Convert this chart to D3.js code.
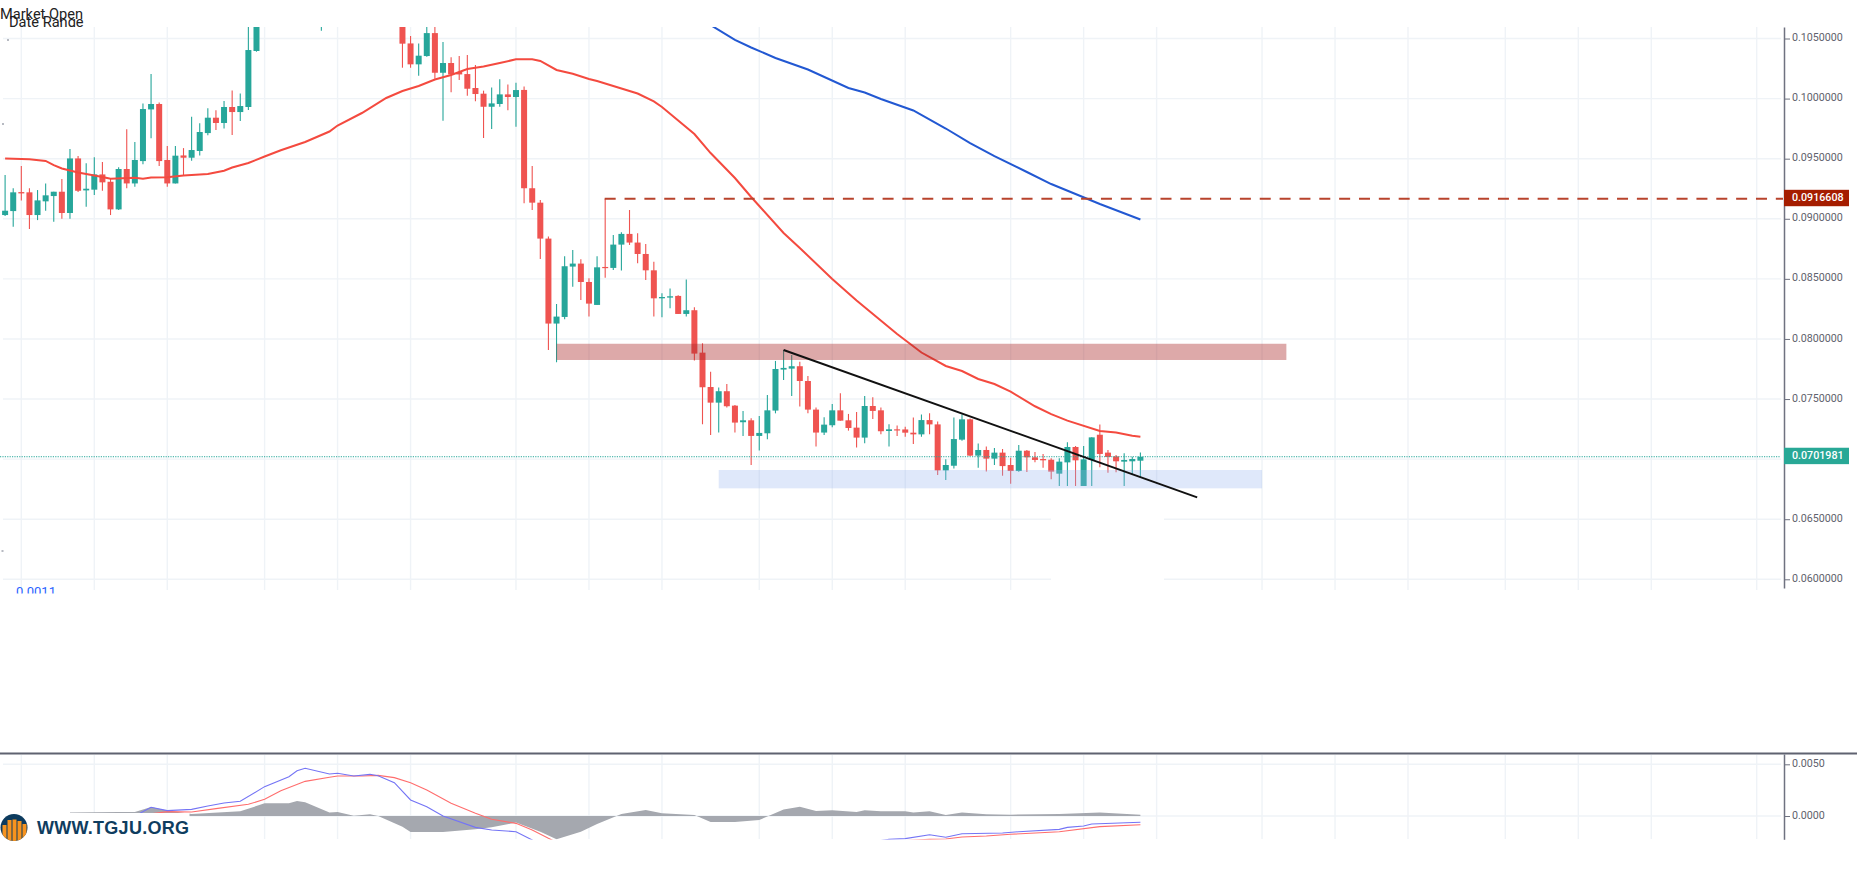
<!DOCTYPE html>
<html>
<head>
<meta charset="utf-8">
<title>Candlestick chart with MACD</title>
<script src="https://cdn.jsdelivr.net/npm/d3@7/dist/d3.min.js"></script>
<style>
  html, body { margin: 0; padding: 0; background: #fff; }
  svg { display: block; }
  text { font-family: Roboto, "Liberation Sans", sans-serif; }
</style>
</head>
<body>
<svg id="chart" width="1874" height="892"></svg>
<script>
// Daily candles, quoted in units of 0.00001
const opens = [9031,9064,9222,9220,9031,9145,9189,9225,9048,9502,
  9236,9242,9369,9308,9078,9414,9294,9480,9910,9955,
  9489,9294,9527,9508,9564,9713,9841,9797,9930,9888,
  9930,10396,10900,11000,11120,11060,11200,11320,11200,10800,
  11280,11020,10950,11100,11000,10850,11000,10880,10720,10700,
  10459,10285,10354,10545,10215,10296,10221,10204,10088,10041,
  9932,9955,10035,10013,10072,9254,9134,8835,8128,8183,
  8602,8627,8474,8283,8599,8591,8785,8874,8802,8707,
  8571,8338,8344,8358,8208,8239,7886,7600,7470,7565,
  7445,7307,7323,7193,7215,7404,7745,7753,7773,7650,
  7412,7221,7282,7406,7323,7262,7179,7442,7406,7234,
  7248,7247,7220,7206,7325,7289,6906,6945,7162,7331,
  7029,7076,7004,7054,6951,6901,7070,7015,7001,6995,
  6879,6973,7101,6750,6993,7203,7054,7023,6979,6982,6987];
const highs = [9364,9253,9439,9253,9239,9294,9225,9331,9580,9522,
  9461,9511,9472,9336,9428,9744,9638,9960,10204,9968,
  9605,9605,9588,9849,9794,9919,9902,9980,10068,10043,
  10680,10980,11050,11180,11260,11240,11380,11420,11330,11350,
  11300,11150,11180,11210,11120,11050,11090,10970,10860,10780,
  10520,10459,10680,10640,10471,10343,10354,10362,10279,10066,
  10093,10160,10118,10132,10100,9440,9157,8852,8291,8688,
  8741,8663,8505,8688,9166,8865,8888,9073,8879,8790,
  8643,8380,8419,8363,8494,8264,7964,7728,7595,7626,
  7451,7401,7340,7359,7534,7817,7908,7867,7811,7692,
  7429,7348,7459,7548,7376,7393,7526,7515,7429,7290,
  7279,7270,7347,7372,7381,7314,6998,7347,7372,7339,
  7131,7104,7093,7084,7012,7118,7076,7059,7043,7007,
  7007,7140,7109,7109,7181,7289,7076,7034,7048,7020,7056];
const lows = [9023,8934,9153,8914,8989,9067,8975,9000,9000,9222,
  9100,9197,9233,9031,9073,9253,9267,9453,9669,9439,
  9267,9294,9364,9483,9527,9694,9738,9752,9697,9813,
  9905,10390,10800,10900,11050,10990,11120,11160,11040,10565,
  10680,10840,10860,10930,10780,10710,10800,10640,10610,10257,
  10257,10190,10348,10165,9816,10052,10154,10024,9977,9672,
  9747,9932,9902,9766,9129,9073,8666,7908,7806,8164,
  8435,8325,8186,8283,8510,8574,8569,8782,8630,8491,
  8186,8180,8255,8208,8186,7820,7290,7201,7221,7429,
  7221,7193,6952,7071,7165,7381,7659,7526,7437,7381,
  7104,7201,7265,7320,7237,7096,7132,7334,7207,7104,
  7193,7186,7125,7186,7206,6868,6826,6923,7153,7026,
  6929,6896,6951,6862,6796,6895,6893,6973,6929,6832,
  6720,6700,6690,6700,6690,6932,6887,6890,6740,6868,6848];
const closes = [9067,9220,9211,9031,9153,9195,9225,9048,9502,9233,
  9250,9369,9303,9078,9414,9294,9489,9913,9955,9480,
  9294,9525,9508,9572,9722,9841,9797,9930,9888,9938,
  10404,10900,11000,11120,11060,11200,11320,11200,11280,11280,
  11020,10950,11100,11000,10850,11000,10880,10720,10780,10457,
  10285,10357,10545,10215,10296,10201,10201,10082,10038,9932,
  9960,10035,10013,10071,9254,9134,8835,8128,8186,8605,
  8627,8474,8294,8596,8591,8785,8874,8802,8707,8571,
  8338,8349,8355,8208,8239,7878,7598,7470,7565,7440,
  7304,7323,7193,7218,7406,7750,7759,7773,7650,7412,
  7221,7287,7406,7320,7259,7179,7442,7401,7232,7248,
  7243,7220,7206,7325,7289,6906,6951,7167,7331,7029,
  7076,7004,7054,6942,6901,7070,7015,6993,6990,6896,
  6979,7101,6990,6998,7181,7043,7018,6982,6993,7001,7019.81];

// Moving averages, as bar number / value pairs in the same units
const fastMaBars = [0,3,5,6,7,9,10,12,13,16,17,18,20,22,25,27,28,30,32,34,37,40,41,44,47,49,51,53,55,57,59,61,63,65,66,68,70,72,73,78,80,81,85,87,90,92,93,96,98,102,105,110,113,116,118,120,122,124,127,129,131,135,137,139,140];
const fastMaValues = [9501,9495,9481,9447,9418,9385,9372,9348,9333,9342,9333,9343,9345,9360,9372,9400,9427,9464,9518,9570,9639,9726,9776,9880,10005,10063,10105,10159,10196,10246,10267,10296,10327,10327,10313,10238,10207,10163,10146,10042,9976,9930,9705,9547,9339,9181,9106,8882,8757,8499,8320,8041,7887,7775,7733,7667,7625,7561,7440,7375,7320,7234,7222,7195,7187];
const slowMaBars = [87,90,92,95,99,104,106,108,112,116,119,122,126,129,132,135,140];
const slowMaValues = [10612,10488,10425,10338,10242,10088,10051,9997,9901,9751,9630,9522,9389,9289,9206,9123,8994];

// MACD study, in units of 0.00001
const histBars = [8,14,16,18,20,23,29,32,35,36,37,40,41,43,45,46,49,50,54,58,60,63,66,68,71,73,76,79,81,85,87,90,93,96,98,100,102,105,106,108,111,112,114,116,118,121,124,130,135,140];
const histValues = [35,39,39,87,52,19,45,123,123,145,132,35,39,3,16,0,-103,-155,-155,-129,-110,-64,-152,-226,-152,-77,19,58,26,10,-58,-58,-39,64,90,48,55,39,55,45,45,35,45,10,35,16,13,19,35,13];
const macdBars = [16,18,20,23,25,27,29,32,35,36,37,40,41,43,45,46,48,50,52,54,58,60,63,65,68,72,78,85,90,96,102,106,109,111,114,116,118,123,125,130,131,133,134,140];
const macdValues = [0,84,52,64,97,126,142,284,380,438,461,406,413,387,403,390,322,155,90,0,-110,-135,-152,-232,-400,-470,-420,-330,-310,-320,-290,-260,-226,-219,-181,-206,-171,-164,-152,-129,-110,-97,-77,-61];
const signalBars = [16,20,23,26,30,32,34,37,40,41,44,46,48,50,52,55,58,60,63,65,67,70,74,80,90,100,108,114,116,118,121,124,130,135,140];
const signalValues = [0,42,39,71,113,161,245,335,374,387,387,393,371,322,251,123,26,-32,-71,-135,-216,-330,-420,-470,-330,-290,-250,-226,-222,-203,-193,-177,-152,-103,-84];

// Axis ticks and time grid
const priceTicks = [0.105,0.10,0.095,0.09,0.085,0.08,0.075,0.07,0.065,0.06];
const macdTicks = [0.005,0];
const timeGridBars = [2,11,20,32,41,50,63,72,81,93,102,111,124,133,142,155,164,173,185,194,203,216];

// Price levels and drawn annotations
const lastPrice = 0.0701981;
const resistancePrice = 0.0916608;
const resistanceStartBar = 74;
const supplyZone = { startBar: 68, endBar: 158, top: 0.0796, bottom: 0.07825 };
const demandZone = { startBar: 88, endBar: 155, top: 0.069095, bottom: 0.06757 };
const trendLine = { bars: [96, 147], prices: [0.07908, 0.06682] };

const UNIT = 1e-5;
const GREEN = "#26a69a", RED = "#ef5350", GRID = "#eff3f7", AXIS = "#6f7280";

const svg = d3.select("#chart");
const x = d3.scaleLinear().domain([0, 216]).range([5.1, 1756.7]);
const y = d3.scaleLinear().domain([0.06, 0.105]).range([579.3, 38.5]);
const yMacd = d3.scaleLinear().domain([0, 0.005]).range([816, 764.3]);

const AXIS_X = 1784;

// Clip regions for the two panes
const defs = svg.append("defs");
defs.append("clipPath").attr("id", "priceClip").append("rect")
  .attr("x", 0).attr("y", 27).attr("width", AXIS_X).attr("height", 563);
defs.append("clipPath").attr("id", "macdClip").append("rect")
  .attr("x", 0).attr("y", 755).attr("width", AXIS_X).attr("height", 84.5);
defs.append("clipPath").attr("id", "headerClip").append("rect")
  .attr("x", 0).attr("y", 0).attr("width", 200).attr("height", 27);
defs.append("clipPath").attr("id", "footClip").append("rect")
  .attr("x", 0).attr("y", 586).attr("width", 200).attr("height", 7.5);
defs.append("clipPath").attr("id", "logoClip").append("circle")
  .attr("cx", 14).attr("cy", 827.5).attr("r", 13.5);

// Grid
const grid = svg.append("g");
grid.selectAll(".h").data(priceTicks).join("line")
  .attr("x1", 3).attr("x2", 1781).attr("y1", d => y(d)).attr("y2", d => y(d))
  .attr("stroke", GRID).attr("stroke-width", 1.4);
grid.selectAll(".v").data(timeGridBars).join("line")
  .attr("x1", d => x(d)).attr("x2", d => x(d)).attr("y1", 27).attr("y2", 590)
  .attr("stroke", GRID).attr("stroke-width", 1.4);
grid.selectAll(".hm").data(macdTicks).join("line")
  .attr("x1", 3).attr("x2", 1781).attr("y1", d => yMacd(d)).attr("y2", d => yMacd(d))
  .attr("stroke", GRID).attr("stroke-width", 1.4);
grid.selectAll(".vm").data(timeGridBars).join("line")
  .attr("x1", d => x(d)).attr("x2", d => x(d)).attr("y1", 755).attr("y2", 839)
  .attr("stroke", GRID).attr("stroke-width", 1.4);

// Price pane
const price = svg.append("g").attr("clip-path", "url(#priceClip)");

const candleData = opens.map((o, i) => ({
  i, o: o * UNIT, h: highs[i] * UNIT, l: lows[i] * UNIT, c: closes[i] * UNIT
}));
const colorOf = d => d.c >= d.o ? GREEN : RED;

price.append("g").selectAll("line").data(candleData).join("line")
  .attr("x1", d => x(d.i)).attr("x2", d => x(d.i))
  .attr("y1", d => y(d.h)).attr("y2", d => y(d.l))
  .attr("stroke", colorOf).attr("stroke-width", 1.1);
price.append("g").selectAll("rect").data(candleData).join("rect")
  .attr("x", d => x(d.i) - 3)
  .attr("width", 6)
  .attr("y", d => y(Math.max(d.o, d.c)))
  .attr("height", d => Math.max(1.2, Math.abs(y(d.o) - y(d.c))))
  .attr("fill", colorOf);

// Last price and resistance level
price.append("line")
  .attr("x1", 0).attr("x2", 1780).attr("y1", y(lastPrice)).attr("y2", y(lastPrice))
  .attr("stroke", GREEN).attr("stroke-width", 1).attr("stroke-dasharray", "1.2,1.2");

const maLine = (bars) => d3.line()
  .x((d, i) => x(bars[i]))
  .y(d => y(d * UNIT));

price.append("path").attr("d", maLine(fastMaBars)(fastMaValues))
  .attr("fill", "none").attr("stroke", "#f44a3f").attr("stroke-width", 2);
price.append("path").attr("d", maLine(slowMaBars)(slowMaValues))
  .attr("fill", "none").attr("stroke", "#2258d2").attr("stroke-width", 2);

price.append("line")
  .attr("x1", x(resistanceStartBar) - 0.5).attr("x2", 1783)
  .attr("y1", y(resistancePrice)).attr("y2", y(resistancePrice))
  .attr("stroke", "#b8432c").attr("stroke-width", 2).attr("stroke-dasharray", "11,8.85");

// Blank patch below the demand zone, then the zones and the trend line above it
svg.append("rect").attr("x", 1051).attr("y", 486).attr("width", 113).attr("height", 106).attr("fill", "#fff");

const zones = svg.append("g");
zones.append("rect")
  .attr("x", x(supplyZone.startBar)).attr("width", x(supplyZone.endBar) - x(supplyZone.startBar))
  .attr("y", y(supplyZone.top)).attr("height", y(supplyZone.bottom) - y(supplyZone.top))
  .attr("fill", "rgb(170,40,40)").attr("fill-opacity", 0.4);
zones.append("rect")
  .attr("x", x(demandZone.startBar)).attr("width", x(demandZone.endBar) - x(demandZone.startBar))
  .attr("y", y(demandZone.top)).attr("height", y(demandZone.bottom) - y(demandZone.top))
  .attr("fill", "rgb(150,180,240)").attr("fill-opacity", 0.3);
zones.append("line")
  .attr("x1", x(trendLine.bars[0])).attr("x2", x(trendLine.bars[1]))
  .attr("y1", y(trendLine.prices[0])).attr("y2", y(trendLine.prices[1]))
  .attr("stroke", "#111").attr("stroke-width", 2);

// MACD pane
const macd = svg.append("g").attr("clip-path", "url(#macdClip)");
const hist = d3.area()
  .x((d, i) => x(histBars[i]))
  .y0(yMacd(0))
  .y1(d => yMacd(d * UNIT));
macd.append("path").attr("d", hist(histValues)).attr("fill", "#a5a8af");

const paneLine = (bars) => d3.line()
  .x((d, i) => x(bars[i]))
  .y(d => yMacd(d * UNIT));
macd.append("path").attr("d", paneLine(signalBars)(signalValues))
  .attr("fill", "none").attr("stroke", "#ff6d6d").attr("stroke-width", 1.1);
macd.append("path").attr("d", paneLine(macdBars)(macdValues))
  .attr("fill", "none").attr("stroke", "#7474f5").attr("stroke-width", 1.1);

// Pane separator
svg.append("line").attr("x1", 0).attr("x2", 1857).attr("y1", 753.6).attr("y2", 753.6)
  .attr("stroke", "#5f6270").attr("stroke-width", 2);

// Axes
const styleAxis = g => {
  g.select(".domain").attr("stroke", AXIS).attr("stroke-width", 1.5);
  g.selectAll(".tick line").attr("stroke", AXIS).attr("stroke-width", 1);
  g.selectAll(".tick text")
    .attr("fill", "#5f626d")
    .attr("font-size", 10.7)
    .attr("dy", "0.2em")
    .style("font-family", "Roboto, sans-serif");
};

const priceAxisScale = y.copy().domain([y.invert(27), y.invert(588)]).range([27, 588]);
svg.append("g").attr("transform", `translate(${AXIS_X},0)`)
  .call(d3.axisRight(priceAxisScale).tickValues(priceTicks).tickSize(6).tickPadding(2).tickSizeOuter(0)
    .tickFormat(d3.format(".7f")))
  .call(styleAxis);

const macdAxisScale = yMacd.copy().domain([yMacd.invert(754), yMacd.invert(839.3)]).range([754, 839.3]);
svg.append("g").attr("transform", `translate(${AXIS_X},0)`)
  .call(d3.axisRight(macdAxisScale).tickValues(macdTicks).tickSize(6).tickPadding(2).tickSizeOuter(0)
    .tickFormat(d3.format(".4f")))
  .call(styleAxis);

// Price tags on the axis
const tags = [
  { value: resistancePrice, fill: "#a51d00" },
  { value: lastPrice, fill: "#28a896" }
];
const tag = svg.append("g").selectAll("g").data(tags).join("g")
  .attr("transform", d => `translate(${AXIS_X},${y(d.value)})`);
tag.append("rect").attr("x", 0).attr("y", -9).attr("width", 65).attr("height", 16.4)
  .attr("fill", d => d.fill);
tag.append("text").attr("x", 8).attr("y", -1.2).attr("dy", "0.35em")
  .attr("fill", "#fff").attr("font-size", 10.7).attr("font-weight", 500)
  .text(d => d.value.toFixed(7));

// Header captions
const header = svg.append("g").attr("clip-path", "url(#headerClip)")
  .attr("fill", "#222").attr("font-size", 14.6);
header.append("text").attr("x", 0).attr("y", 19.4).text("Market Open");
header.append("text").attr("x", 9).attr("y", 27).text("Date Range");

svg.append("g").attr("clip-path", "url(#footClip)")
  .append("text").attr("x", 16).attr("y", 596).attr("fill", "#2962ff").attr("font-size", 13).text("0.0011");

// Small specks along the left edge
svg.selectAll(".speck").data([[7, 39], [2, 123], [1.5, 550]]).join("rect")
  .attr("x", d => d[0]).attr("y", d => d[1]).attr("width", 2).attr("height", 2)
  .attr("fill", "#b7bac2");

// Watermark
const mark = svg.append("g");
mark.append("rect").attr("x", 0).attr("y", 813).attr("width", 189.5).attr("height", 34).attr("fill", "#fff");
mark.append("circle").attr("cx", 14).attr("cy", 827.5).attr("r", 13.5).attr("fill", "#0d3b5e");
const logoBars = [[2.5, 9, 13], [7.5, 4, 20], [12.5, 3.5, 20], [17.5, 5, 15], [22.5, 8, 6]];
mark.append("g").attr("clip-path", "url(#logoClip)").selectAll("rect").data(logoBars).join("rect")
  .attr("x", d => d[0]).attr("width", 4)
  .attr("y", d => 813 + d[1] + 3).attr("height", 30)
  .attr("fill", "#f7931e");
mark.append("text").attr("x", 37).attr("y", 834)
  .attr("fill", "#0f3d5f").attr("font-size", 18).attr("font-weight", 700)
  .style("font-family", "'Liberation Sans', sans-serif")
  .attr("textLength", 152).attr("lengthAdjust", "spacing")
  .text("WWW.TGJU.ORG");
</script>
</body>
</html>
